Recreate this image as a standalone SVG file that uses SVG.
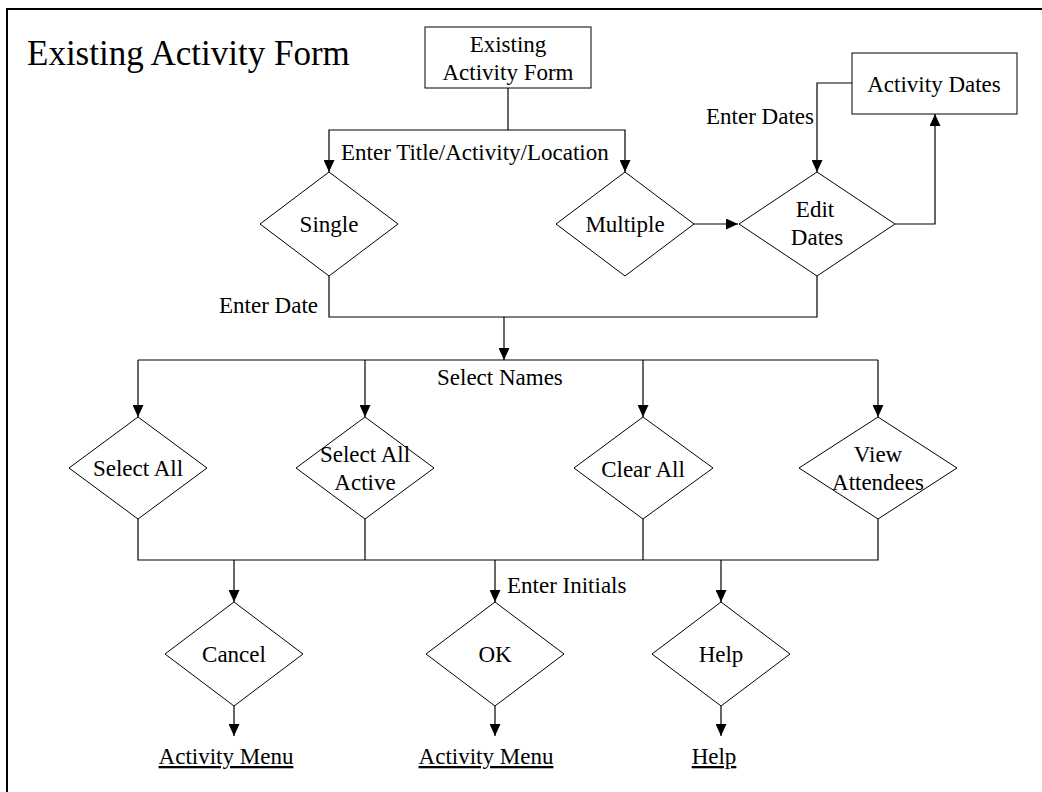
<svg xmlns="http://www.w3.org/2000/svg" width="1042" height="792" viewBox="0 0 1042 792">
<style>
text{font-family:"Liberation Serif","Times New Roman",serif;font-size:23px;fill:#000}
.c{text-anchor:middle}
.shape{fill:#fff;stroke:#000;stroke-width:1}
.conn path{fill:none;stroke:#000;stroke-width:1.2}
.u{text-decoration:underline}
</style>
<defs>
<marker id="ah" markerUnits="userSpaceOnUse" markerWidth="12" markerHeight="11" refX="12" refY="5.5" orient="auto">
<path d="M0,0 L12,5.5 L0,11 z" fill="#000"/>
</marker>
</defs>
<rect x="0" y="0" width="1042" height="792" fill="#fff"/>
<rect x="7" y="9" width="1040" height="790" fill="none" stroke="#000" stroke-width="2"/>
<text x="27" y="65" style="font-size:35px">Existing Activity Form</text>

<g class="conn">
<path d="M508,88 V130 H329 V172" marker-end="url(#ah)"/>
<path d="M508,130 H625 V172" marker-end="url(#ah)"/>
<path d="M694,224 H738" marker-end="url(#ah)"/>
<path d="M895,224 H935 V114" marker-end="url(#ah)"/>
<path d="M852,83 H817 V172" marker-end="url(#ah)"/>
<path d="M329,276 V317 H817 V276"/>
<path d="M504,317 V360" marker-end="url(#ah)"/>
<path d="M138,360 H878"/>
<path d="M138,360 V417" marker-end="url(#ah)"/>
<path d="M365,360 V417" marker-end="url(#ah)"/>
<path d="M643,360 V417" marker-end="url(#ah)"/>
<path d="M878,360 V417" marker-end="url(#ah)"/>
<path d="M138,519 V560 H878 V519"/>
<path d="M365,519 V560"/>
<path d="M643,519 V560"/>
<path d="M234,560 V602" marker-end="url(#ah)"/>
<path d="M495,560 V602" marker-end="url(#ah)"/>
<path d="M721,560 V602" marker-end="url(#ah)"/>
<path d="M234,706 V736" marker-end="url(#ah)"/>
<path d="M495,706 V736" marker-end="url(#ah)"/>
<path d="M721,706 V736" marker-end="url(#ah)"/>
</g>

<g id="labels">
<text x="341" y="160">Enter Title/Activity/Location</text>
<text x="318" y="313" text-anchor="end">Enter Date</text>
<text x="814" y="124" text-anchor="end">Enter Dates</text>
<text x="437" y="385">Select Names</text>
<text x="507" y="593">Enter Initials</text>
</g>

<g id="existing-activity-form">
<rect class="shape" x="425" y="27" width="166" height="61"/>
<text class="c" x="508" y="52">Existing</text>
<text class="c" x="508" y="80">Activity Form</text>
</g>
<g id="activity-dates">
<rect class="shape" x="852" y="53" width="165" height="61"/>
<text class="c" x="934" y="92">Activity Dates</text>
</g>
<g id="single">
<polygon class="shape" points="329,172 398,224 329,276 260,224"/>
<text class="c" x="329" y="232">Single</text>
</g>
<g id="multiple">
<polygon class="shape" points="625,172 694,224 625,276 556,224"/>
<text class="c" x="625" y="232">Multiple</text>
</g>
<g id="edit-dates">
<polygon class="shape" points="817,172 895,224 817,276 739,224"/>
<text class="c" x="815" y="217">Edit</text>
<text class="c" x="817" y="245">Dates</text>
</g>
<g id="select-all">
<polygon class="shape" points="138,417 207,468 138,519 69,468"/>
<text class="c" x="138" y="476">Select All</text>
</g>
<g id="select-all-active">
<polygon class="shape" points="365,417 434,468 365,519 296,468"/>
<text class="c" x="365" y="462">Select All</text>
<text class="c" x="365" y="490">Active</text>
</g>
<g id="clear-all">
<polygon class="shape" points="643,417 713,468 643,519 574,468"/>
<text class="c" x="643" y="477">Clear All</text>
</g>
<g id="view-attendees">
<polygon class="shape" points="878,417 957,468 878,519 799,468"/>
<text class="c" x="878" y="462">View</text>
<text class="c" x="878" y="490">Attendees</text>
</g>
<g id="cancel">
<polygon class="shape" points="234,602 303,654 234,706 165,654"/>
<text class="c" x="234" y="662">Cancel</text>
</g>
<g id="ok">
<polygon class="shape" points="495,602 564,654 495,706 426,654"/>
<text class="c" x="495" y="662">OK</text>
</g>
<g id="help">
<polygon class="shape" points="721,602 790,654 721,706 652,654"/>
<text class="c" x="721" y="662">Help</text>
</g>
<g id="activity-menu-1">
<text class="c u" x="226" y="764">Activity Menu</text>
</g>
<g id="activity-menu-2">
<text class="c u" x="486" y="764">Activity Menu</text>
</g>
<g id="help-link">
<text class="c u" x="714" y="764">Help</text>
</g>
</svg>
